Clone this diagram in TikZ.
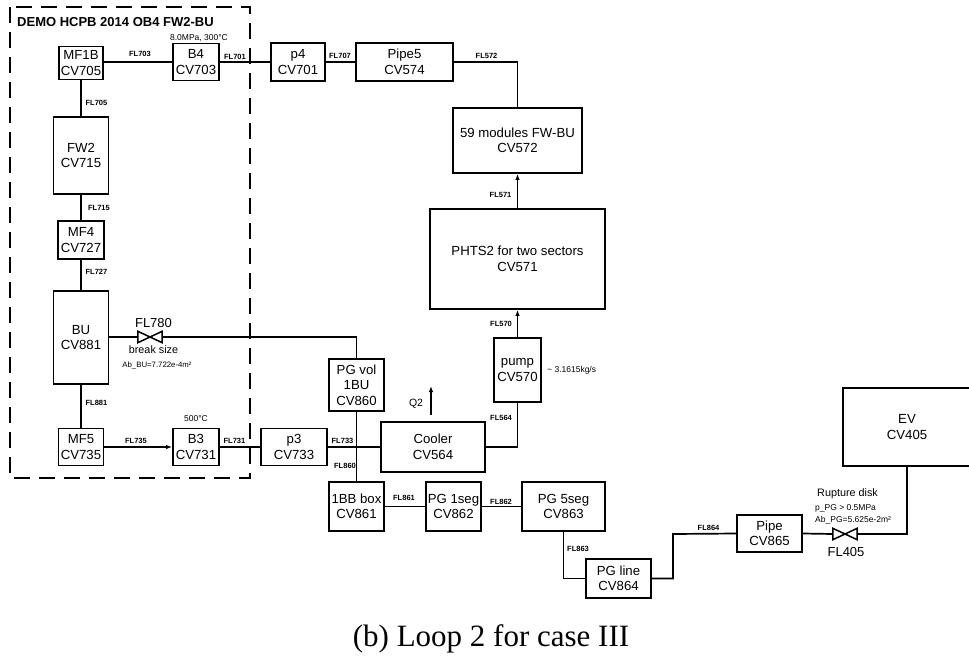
\documentclass[tikz,border=0pt]{standalone}
\usepackage{fontspec}
\setmainfont{Liberation Sans}
\newfontfamily\capserif{Liberation Serif}
\usetikzlibrary{arrows.meta}
\newcommand\bxfont{\fontsize{13.2}{15.5}\selectfont}
\newcommand\smallfl{\fontsize{7.5}{9}\selectfont\bfseries}
\tikzset{
  box/.style={draw, line width=1.8pt, align=center, inner sep=0pt, font=\bxfont},
  fl/.style={font=\smallfl, inner sep=0pt},
  note/.style={inner sep=0pt, align=center},
  pipe/.style={line width=1.7pt},
  flow/.style={line width=1.7pt, -{Latex[length=6pt,width=4.5pt]}},
  valve/.style={minimum width=24pt, minimum height=11pt, inner sep=0pt},
  dashedbox/.style={line width=1.7pt, dash pattern=on 16pt off 9pt}
}
\begin{document}
\begin{tikzpicture}[x=1pt,y=-1pt]
\useasboundingbox (0,0) rectangle (969,659);
\fill[white] (0,0) rectangle (969,659);

% dashed region
\draw[dashedbox] (10,7) rectangle (250,478);
\node[anchor=west, inner sep=0pt, font=\fontsize{13}{14}\selectfont\bfseries] (title) at (17,22) {DEMO HCPB 2014 OB4 FW2-BU};

% boxes
\node[box, minimum width=44pt, minimum height=33pt] (mf1b) at (81,63) {MF1B\\CV705};
\node[box, minimum width=46pt, minimum height=37pt] (b4) at (196,62) {B4\\CV703};
\node[box, minimum width=54pt, minimum height=38pt] (p4) at (298,62) {p4\\CV701};
\node[box, minimum width=97pt, minimum height=38pt] (pipe5) at (404.5,62) {Pipe5\\CV574};
\node[box, minimum width=129pt, minimum height=65pt] (m59) at (517.5,140.5) {59 modules FW-BU\\CV572};
\node[box, minimum width=55pt, minimum height=77pt] (fw2) at (81,155.5) {FW2\\CV715};
\node[box, minimum width=46pt, minimum height=38pt] (mf4) at (81,240) {MF4\\CV727};
\node[box, minimum width=55pt, minimum height=93pt] (bu) at (81,337.5) {BU\\CV881};
\node[box, minimum width=45pt, minimum height=37pt] (mf5) at (81,447) {MF5\\CV735};
\node[box, minimum width=46pt, minimum height=37pt] (b3) at (196,447) {B3\\CV731};
\node[box, minimum width=66pt, minimum height=37pt] (p3) at (294,447) {p3\\CV733};
\node[box, minimum width=55pt, minimum height=52pt] (pgvol) at (356.5,385) {PG vol\\1BU\\CV860};
\node[box, minimum width=104pt, minimum height=50pt] (cooler) at (433,447) {Cooler\\CV564};
\node[box, minimum width=47pt, minimum height=64pt] (pump) at (517.5,370) {pump\\CV570};
\node[box, minimum width=175pt, minimum height=100pt] (phts) at (517.5,259) {PHTS2 for two sectors\\CV571};
\node[box, minimum width=55pt, minimum height=49pt] (bb) at (356.5,506.5) {1BB box\\CV861};
\node[box, minimum width=55pt, minimum height=49pt] (pg1) at (453.5,506.5) {PG 1seg\\CV862};
\node[box, minimum width=83pt, minimum height=49pt] (pg5) at (563.5,506.5) {PG 5seg\\CV863};
\node[box, minimum width=65pt, minimum height=39pt] (pgline) at (618.5,578.5) {PG line\\CV864};
\node[box, minimum width=65pt, minimum height=37pt] (pipe) at (769.5,533.5) {Pipe\\CV865};
\node[box, minimum width=128pt, minimum height=78pt] (ev) at (907,427) {EV\\CV405};

% valves
\node[valve] (v780) at (150,337) {};
\draw[line width=1.5pt] (v780.north west) -- (v780.south east) -- (v780.north east) -- (v780.south west) -- cycle;
\node[valve] (v405) at (845,534) {};
\draw[line width=1.5pt] (v405.north west) -- (v405.south east) -- (v405.north east) -- (v405.south west) -- cycle;

% connectors
\draw[pipe] (mf1b.east |- b4.west) -- (b4.west);
\draw[pipe] (b4.east) -- (p4.west);
\draw[pipe] (p4.east) -- (pipe5.west);
\draw[pipe] (pipe5.east) -| (m59.north);
\draw[flow] (phts.north) -- (m59.south);
\draw[flow] (pump.north) -- (phts.south);
\draw[pipe] (cooler.east) -| (pump.south);
\draw[pipe] (mf1b.south) -- (fw2.north);
\draw[pipe] (fw2.south) -- (mf4.north);
\draw[pipe] (mf4.south) -- (bu.north);
\draw[pipe] (bu.south) -- (mf5.north);
\draw[pipe] (bu.east |- v780.west) -- (v780.west);
\draw[pipe] (v780.east) -| (pgvol.north);
\draw[flow] (mf5.east) -- (b3.west);
\draw[pipe] (b3.east) -- (p3.west);
\draw[pipe] (p3.east) -- (cooler.west);
\draw[pipe] (pgvol.south) -- (bb.north);
\draw[pipe] (bb.east) -- (pg1.west);
\draw[pipe] (pg1.east) -- (pg5.west);
\draw[pipe] (pg5.south) |- (pgline.west);
\coordinate (k864) at (673,534);
\draw[pipe] (pgline.east) -| (k864) -- (pipe.west);
\draw[pipe] (pipe.east) -- (v405.west);
\draw[pipe] (v405.east) -| (ev.south);

% Q2 heat arrow
\coordinate (q2a) at (431,415);
\coordinate (q2b) at (431,386);
\draw[line width=1.5pt, -{Latex[length=6pt,width=4.5pt]}] (q2a) -- (q2b);
\node[note, font=\fontsize{10.5}{12}\selectfont] (q2) at (416,404) {Q2};

% flow labels
\node[fl] (l703) at (140,54) {FL703};
\node[fl] (l701) at (235,57) {FL701};
\node[fl] (l707) at (340,56) {FL707};
\node[fl] (l572) at (486.5,56) {FL572};
\node[fl] (l571) at (500.5,195) {FL571};
\node[fl] (l570) at (501,324) {FL570};
\node[fl] (l564) at (501,418) {FL564};
\node[fl] (l705) at (96.5,103) {FL705};
\node[fl] (l715) at (99,208) {FL715};
\node[fl] (l727) at (96.5,272) {FL727};
\node[fl] (l881) at (96.5,403) {FL881};
\node[fl] (l735) at (136,441) {FL735};
\node[fl] (l731) at (234.5,441) {FL731};
\node[fl] (l733) at (342.5,441) {FL733};
\node[fl] (l860) at (345,466) {FL860};
\node[fl] (l861) at (404,498) {FL861};
\node[fl] (l862) at (501,502) {FL862};
\node[fl] (l863) at (578,549) {FL863};
\node[fl] (l864) at (708.5,528) {FL864};

% notes
\node[note, font=\fontsize{8.5}{10}\selectfont] (n703) at (199,38) {8.0MPa, 300°C};
\node[note, font=\fontsize{8.5}{10}\selectfont] (n731) at (196,419) {500°C};
\node[note, anchor=west, font=\fontsize{8.5}{10}\selectfont] (nflow) at (547,370) {\textasciitilde\ 3.1615kg/s};
\node[note, font=\fontsize{13}{14}\selectfont] (n780) at (153.5,323) {FL780};
\node[note, font=\fontsize{10.8}{12}\selectfont] (nbreak) at (153.5,350) {break size};
\node[note, font=\fontsize{7.8}{9}\selectfont] (nab) at (157,365) {Ab\_BU=7.722e-4m²};
\node[note, anchor=west, font=\fontsize{10.8}{12}\selectfont] (nrup) at (817,494) {Rupture disk};
\node[note, anchor=west, font=\fontsize{8.5}{10}\selectfont] (npg) at (815,508) {p\_PG > 0.5MPa};
\node[note, anchor=west, font=\fontsize{8.5}{10}\selectfont] (nabpg) at (815,520) {Ab\_PG=5.625e-2m²};
\node[note, font=\fontsize{13}{14}\selectfont] (n405) at (846,552) {FL405};

% caption
\node[note, font=\capserif\fontsize{31}{36}\selectfont] (cap) at (491,639) {(b) Loop 2 for case III};
\end{tikzpicture}
\end{document}
